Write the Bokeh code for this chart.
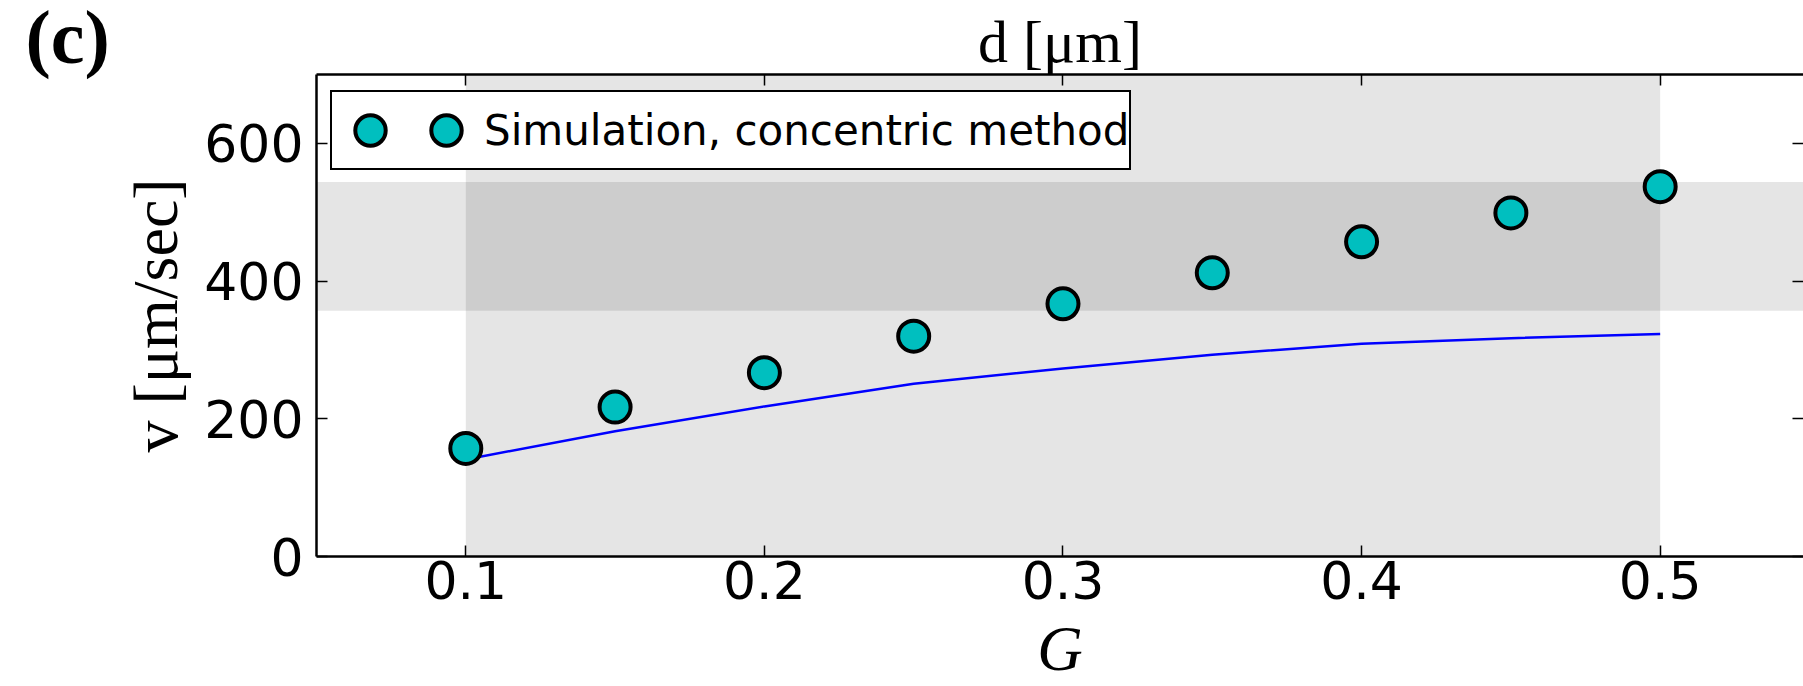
from bokeh.plotting import figure
from bokeh.models import (LinearAxis, FixedTicker, BoxAnnotation, Legend,
                          LegendItem, Range1d)
from bokeh.embed import file_html
from bokeh.resources import INLINE

# ---- data ----
G = [0.1, 0.15, 0.2, 0.25, 0.3, 0.35, 0.4, 0.45, 0.5]
v_sim = [157, 217, 267, 320, 367, 412, 457, 499, 537]
v_model = [141, 182, 218, 251, 273, 293, 309, 317, 323]
x_ticks = [0.1, 0.2, 0.3, 0.4, 0.5]
y_ticks = [0, 200, 400, 600]
band_G = [0.1, 0.5]
band_v = [357, 544]
legend_label = "Simulation, concentric method"
x_label = "G"
y_label = "v [μm/sec]"
top_label = "d [μm]"
panel_label = "(c)"

X0, X1 = 0.05, 0.548
Y0, Y1 = 0, 700

p = figure(width=1803, height=686, output_backend="svg", toolbar_location=None,
           x_range=Range1d(X0, X1), y_range=Range1d(Y0, Y1),
           min_border_left=316, min_border_right=0, min_border_top=74,
           min_border_bottom=129, title="\n" + panel_label)
p.outline_line_color = None
p.grid.visible = False
p.background_fill_color = "white"
p.border_fill_color = "white"

# panel tag "(c)" as the plot title, shifted into the top-left corner
p.title.align = "left"
p.title.offset = -291
p.title.vertical_align = "top"
p.title.standoff = -189
p.title.text_font = "Liberation Serif"
p.title.text_font_style = "bold"
p.title.text_font_size = "76px"
p.title.text_color = "black"

bottom = p.below[0]
left = p.left[0]
top = LinearAxis()
right = LinearAxis()


def style(ax, ticks, labels):
    ax.ticker = FixedTicker(ticks=ticks)
    ax.major_tick_in = 11
    ax.major_tick_out = 0
    ax.minor_tick_line_color = None
    ax.major_tick_line_width = 1.5
    ax.major_tick_line_color = "black"
    ax.axis_line_width = 2.5
    ax.axis_line_color = "black"
    if labels:
        ax.major_label_text_font = "DejaVu Sans"
        ax.major_label_text_font_size = "52px"
        ax.major_label_text_color = "black"
    else:
        ax.major_label_overrides = {t: "" for t in ticks}
        ax.major_label_text_font_size = "1px"
        ax.major_label_standoff = 0


style(bottom, x_ticks, True)
style(left, y_ticks, True)
style(top, x_ticks, False)
style(right, y_ticks, False)
right.axis_line_color = None

bottom.major_label_standoff = 4
left.major_label_standoff = 13

bottom.axis_label = x_label
bottom.axis_label_text_font = "Liberation Serif"
bottom.axis_label_text_font_style = "italic"
bottom.axis_label_text_font_size = "63px"
bottom.axis_label_text_color = "black"
bottom.axis_label_standoff = 12

left.axis_label = y_label
left.axis_label_text_font = "Liberation Serif"
left.axis_label_text_font_style = "normal"
left.axis_label_text_font_size = "64px"
left.axis_label_text_color = "black"
left.axis_label_standoff = 10

top.axis_label = top_label
top.axis_label_text_font = "Liberation Serif"
top.axis_label_text_font_style = "normal"
top.axis_label_text_font_size = "60px"
top.axis_label_text_color = "black"
top.axis_label_standoff = 0

p.add_layout(top, "above")
p.add_layout(right, "right")

# shaded bands
p.add_layout(BoxAnnotation(left=band_G[0], right=band_G[1], fill_color="black",
                           fill_alpha=0.1, line_color=None, level="underlay"))
p.add_layout(BoxAnnotation(bottom=band_v[0], top=band_v[1], fill_color="black",
                           fill_alpha=0.1, line_color=None, level="underlay"))

p.line(G, v_model, line_color="#0000ff", line_width=2.5)
r = p.scatter(G, v_sim, size=31, fill_color="#00bfbf", line_color="black",
              line_width=4)

legend = Legend(items=[LegendItem(label="", renderers=[r]),
                       LegendItem(label=legend_label, renderers=[r])],
                orientation="horizontal", location=(14, 386),
                glyph_width=76, glyph_height=76, padding=0, spacing=0,
                label_standoff=0, label_width=0, label_height=0, margin=0,
                label_text_font="DejaVu Sans", label_text_font_size="42px",
                label_text_color="black",
                border_line_color="black", border_line_width=2.5,
                border_line_alpha=1.0,
                background_fill_color="white", background_fill_alpha=1.0)
p.add_layout(legend)

open("out.html", "w").write(file_html(p, INLINE))
